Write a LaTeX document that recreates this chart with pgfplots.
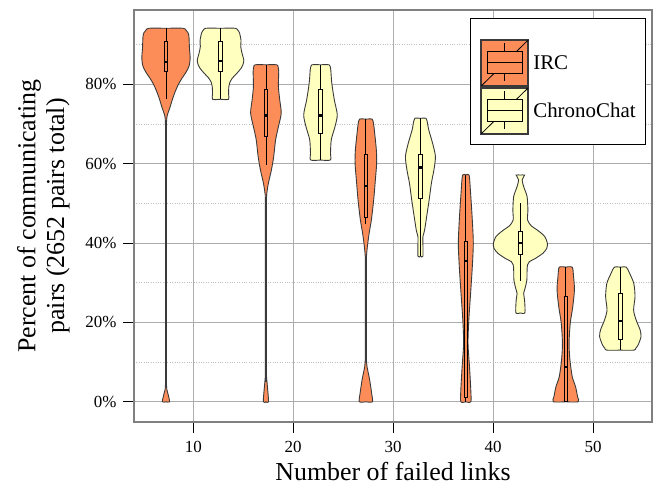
\documentclass[border=0pt]{standalone}
\usepackage{fontspec}
\setmainfont{Liberation Serif}
\usepackage{pgfplots}
\usepackage{pgfplotstable}
\pgfplotsset{compat=1.18}
\usepgfplotslibrary{statistics}
\definecolor{ircC}{HTML}{FC8D59}
\definecolor{chrC}{HTML}{FFFFBF}
\definecolor{edgeC}{HTML}{3A3A3A}

% violin outlines: y = value (%), w = half width (x units)
\pgfplotstableread{
y w
94.1 0
94.1 1.70
93.7 1.98
93.0 2.20
92.0 2.30
89.0 2.35
86.5 2.42
84.5 2.30
83.0 2.00
81.5 1.60
80.0 1.25
78.0 0.90
76.0 0.62
74.0 0.38
72.5 0.17
71.0 0.07
65.0 0.05
10.0 0.05
3.8 0.06
2.0 0.20
0.0 0.36
0.0 0
}\ircA
\pgfplotstableread{
y w
94.1 0
94.1 1.45
93.7 1.70
92.9 1.90
91.0 2.05
89.5 2.02
87.8 2.15
86.1 2.33
85.0 2.25
84.0 2.05
82.8 1.65
81.5 1.17
80.4 0.92
79.4 0.83
77.5 0.80
76.2 0.80
76.2 0
}\chrA
\pgfplotstableread{
y w
84.9 0
84.9 1.08
84.3 1.22
83.2 1.28
79.4 1.25
76.1 1.38
72.7 1.53
69.3 1.25
66.0 0.97
61.8 0.78
58.4 0.55
55.1 0.25
52.5 0.09
51.0 0.06
40.0 0.05
7.0 0.05
6.3 0.06
3.8 0.15
0.0 0.26
0.0 0
}\ircB
\pgfplotstableread{
y w
84.9 0
84.9 0.85
84.2 0.99
83.6 1.03
80.3 1.13
76.1 1.38
72.3 1.68
69.3 1.45
66.0 1.08
62.6 1.00
60.9 0.98
60.9 0
}\chrB
\pgfplotstableread{
y w
71.2 0
71.2 0.63
70.0 0.77
67.7 0.88
63.4 1.05
60.1 1.08
55.9 0.95
50.8 0.78
45.8 0.55
42.5 0.33
39.1 0.15
36.6 0.06
35.0 0.05
11.5 0.05
10.5 0.06
8.8 0.12
5.5 0.38
2.1 0.58
0.0 0.65
0.0 0
}\ircC
\pgfplotstableread{
y w
71.4 0
71.4 0.56
70.0 0.72
68.5 0.83
65.1 1.22
61.8 1.50
58.4 1.35
55.1 1.10
50.8 0.87
46.6 0.62
43.3 0.42
41.6 0.25
36.7 0.25
36.7 0
}\chrC
\pgfplotstableread{
y w
57.1 0
57.1 0.33
52.5 0.48
45.8 0.65
39.9 0.75
34.0 0.65
27.3 0.48
20.6 0.30
14.7 0.22
8.8 0.37
2.9 0.50
0.0 0.50
0.0 0
}\ircD
\pgfplotstableread{
y w
57.1 0
57.1 0.42
55.9 0.18
54.2 0.33
51.7 0.67
48.3 0.75
45.8 0.72
44.3 1.10
43.3 1.67
41.7 2.42
39.9 2.70
38.6 2.63
37.4 2.25
36.1 1.50
35.3 0.90
34.5 0.72
33.2 0.67
30.7 0.65
28.6 0.47
27.3 0.33
25.6 0.42
22.4 0.45
22.4 0
}\chrD
\pgfplotstableread{
y w
33.9 0
33.9 0.65
31.5 0.78
28.2 0.87
23.9 0.70
19.8 0.45
14.7 0.33
10.5 0.42
6.3 0.65
3.8 0.98
1.3 1.18
0.0 1.25
0.0 0
}\ircE
\pgfplotstableread{
y w
33.9 0
33.9 0.60
32.4 0.92
29.8 1.35
26.5 1.47
23.1 1.33
20.6 1.58
18.1 1.98
16.4 2.07
14.3 1.78
13.5 1.55
13.0 1.37
13.0 0
}\chrE

\begin{document}
\begin{tikzpicture}
\begin{axis}[
  width=518bp, height=412bp, scale only axis,
  xmin=4.07, xmax=55.9, ymin=-5.1, ymax=98.7,
  xtick={10,20,30,40,50}, xticklabels={10,20,30,40,50},
  ytick={0,20,40,60,80}, yticklabels={0\%,20\%,40\%,60\%,80\%},
  minor ytick={10,30,50,70,90},
  xmajorgrids, ymajorgrids, yminorgrids,
  major grid style={color=gray!65, line width=0.8bp},
  minor grid style={color=gray!50, dotted, line width=0.6bp},
  axis line style={color=gray, line width=1.5bp},
  tick align=outside, tick pos=left,
  major tick length=11bp, minor tick length=0pt,
  tick style={black, line width=0.9bp},
  tick label style={font=\fontsize{17}{20}\selectfont},
  xticklabel style={yshift=-5bp},
  yticklabel style={xshift=-3bp},
  xlabel={Number of failed links},
  ylabel={Percent of communicating\\pairs (2652 pairs total)},
  label style={font=\fontsize{26}{29}\selectfont},
  xlabel style={at={(axis description cs:0.5,-0.1420)}, anchor=base, inner sep=0pt},
  ylabel style={at={(axis description cs:-0.1749,0.5)}, anchor=center, align=center},
  vio/.style={smooth, tension=0.45, draw=edgeC, line width=0.9bp, fill=#1, forget plot},
  bx/.style={forget plot, fill=#1, draw=black, line width=0.8bp, solid, boxplot/draw direction=y},
  boxplot/every median/.style={line width=2.2bp},
  legend cell align=left,
  legend style={at={(1,1)}, anchor=north east, xshift=-6bp, yshift=-8.3bp,
    draw=black, line width=0.8bp, fill=white,
    font=\fontsize{21}{24}\selectfont,
    inner xsep=10bp, inner ysep=9.5bp, row sep=0pt, nodes={inner sep=0pt}},
]
% IRC 10
\addplot[vio=ircC] table[x expr=7.27+\thisrow{w}, y=y] {\ircA};
\addplot[vio=ircC] table[x expr=7.27-\thisrow{w}, y=y] {\ircA};
\addplot[bx=ircC, boxplot prepared={draw position=7.27, lower whisker=76.2, lower quartile=83.2, median=85.6, upper quartile=90.8, upper whisker=94.1, box extend=0.38, whisker extend=0}] coordinates {};
% ChronoChat 10
\addplot[vio=chrC] table[x expr=12.73+\thisrow{w}, y=y] {\chrA};
\addplot[vio=chrC] table[x expr=12.73-\thisrow{w}, y=y] {\chrA};
\addplot[bx=chrC, boxplot prepared={draw position=12.73, lower whisker=76.2, lower quartile=83.2, median=85.9, upper quartile=90.9, upper whisker=94.1, box extend=0.38, whisker extend=0}] coordinates {};
% IRC 20
\addplot[vio=ircC] table[x expr=17.27+\thisrow{w}, y=y] {\ircB};
\addplot[vio=ircC] table[x expr=17.27-\thisrow{w}, y=y] {\ircB};
\addplot[bx=ircC, boxplot prepared={draw position=17.27, lower whisker=59.7, lower quartile=66.8, median=72.1, upper quartile=78.7, upper whisker=84.9, box extend=0.38, whisker extend=0}] coordinates {};
% ChronoChat 20
\addplot[vio=chrC] table[x expr=22.73+\thisrow{w}, y=y] {\chrB};
\addplot[vio=chrC] table[x expr=22.73-\thisrow{w}, y=y] {\chrB};
\addplot[bx=chrC, boxplot prepared={draw position=22.73, lower whisker=60.9, lower quartile=67.7, median=72.1, upper quartile=78.7, upper whisker=84.9, box extend=0.38, whisker extend=0}] coordinates {};
% IRC 30
\addplot[vio=ircC] table[x expr=27.27+\thisrow{w}, y=y] {\ircC};
\addplot[vio=ircC] table[x expr=27.27-\thisrow{w}, y=y] {\ircC};
\addplot[bx=ircC, boxplot prepared={draw position=27.27, lower whisker=44.8, lower quartile=46.5, median=54.4, upper quartile=62.2, upper whisker=71.2, box extend=0.38, whisker extend=0}] coordinates {};
% ChronoChat 30
\addplot[vio=chrC] table[x expr=32.73+\thisrow{w}, y=y] {\chrC};
\addplot[vio=chrC] table[x expr=32.73-\thisrow{w}, y=y] {\chrC};
\addplot[bx=chrC, boxplot prepared={draw position=32.73, lower whisker=36.7, lower quartile=51.3, median=59.0, upper quartile=62.4, upper whisker=71.4, box extend=0.38, whisker extend=0}] coordinates {};
% IRC 40
\addplot[vio=ircC] table[x expr=37.27+\thisrow{w}, y=y] {\ircD};
\addplot[vio=ircC] table[x expr=37.27-\thisrow{w}, y=y] {\ircD};
\addplot[bx=ircC, boxplot prepared={draw position=37.27, lower whisker=0, lower quartile=1.1, median=35.5, upper quartile=40.3, upper whisker=57.1, box extend=0.36, whisker extend=0}] coordinates {};
% ChronoChat 40
\addplot[vio=chrC] table[x expr=42.73+\thisrow{w}, y=y] {\chrD};
\addplot[vio=chrC] table[x expr=42.73-\thisrow{w}, y=y] {\chrD};
\addplot[bx=chrC, boxplot prepared={draw position=42.73, lower whisker=30.5, lower quartile=37.0, median=39.9, upper quartile=42.9, upper whisker=50.2, box extend=0.38, whisker extend=0}] coordinates {};
% IRC 50
\addplot[vio=ircC] table[x expr=47.27+\thisrow{w}, y=y] {\ircE};
\addplot[vio=ircC] table[x expr=47.27-\thisrow{w}, y=y] {\ircE};
\addplot[bx=ircC, boxplot prepared={draw position=47.27, lower whisker=0, lower quartile=0, median=8.7, upper quartile=26.5, upper whisker=33.9, box extend=0.36, whisker extend=0}] coordinates {};
% ChronoChat 50
\addplot[vio=chrC] table[x expr=52.73+\thisrow{w}, y=y] {\chrE};
\addplot[vio=chrC] table[x expr=52.73-\thisrow{w}, y=y] {\chrE};
\addplot[bx=chrC, boxplot prepared={draw position=52.73, lower whisker=13.0, lower quartile=15.6, median=20.4, upper quartile=27.3, upper whisker=33.9, box extend=0.38, whisker extend=0}] coordinates {};

\addlegendimage{legend image code/.code={
  \path[draw=none, fill=none] (0bp,-23bp) rectangle (52bp,34.7bp);
  \draw[fill=ircC, draw=edgeC, line width=1.8bp] (0bp,-23bp) rectangle (47bp,23bp);
  \draw[black, line width=0.8bp] (0bp,-23bp) -- (47bp,23bp);
  \draw[fill=ircC, draw=black, line width=0.8bp] (5.6bp,-11bp) rectangle (41.4bp,11.5bp);
  \draw[black, line width=0.8bp] (5.6bp,0.3bp) -- (41.4bp,0.3bp);
  \draw[black, line width=0.8bp] (23.5bp,11.5bp) -- (23.5bp,19.5bp) (23.5bp,-11bp) -- (23.5bp,-18.5bp);
}}
\addlegendentry{IRC}
\addlegendimage{legend image code/.code={
  \path[draw=none, fill=none] (0bp,-23bp) rectangle (52bp,23bp);
  \draw[fill=chrC, draw=edgeC, line width=1.8bp] (0bp,-23bp) rectangle (47bp,23bp);
  \draw[black, line width=0.8bp] (0bp,-23bp) -- (47bp,23bp);
  \draw[fill=chrC, draw=black, line width=0.8bp] (5.6bp,-11bp) rectangle (41.4bp,11.5bp);
  \draw[black, line width=0.8bp] (5.6bp,0.3bp) -- (41.4bp,0.3bp);
  \draw[black, line width=0.8bp] (23.5bp,11.5bp) -- (23.5bp,19.5bp) (23.5bp,-11bp) -- (23.5bp,-18.5bp);
}}
\addlegendentry{ChronoChat}
\end{axis}
\pgfresetboundingbox
\path[use as bounding box] ([xshift=-134bp,yshift=-63bp]current axis.south west) rectangle ([xshift=6bp,yshift=10bp]current axis.north east);
\end{tikzpicture}
\end{document}
